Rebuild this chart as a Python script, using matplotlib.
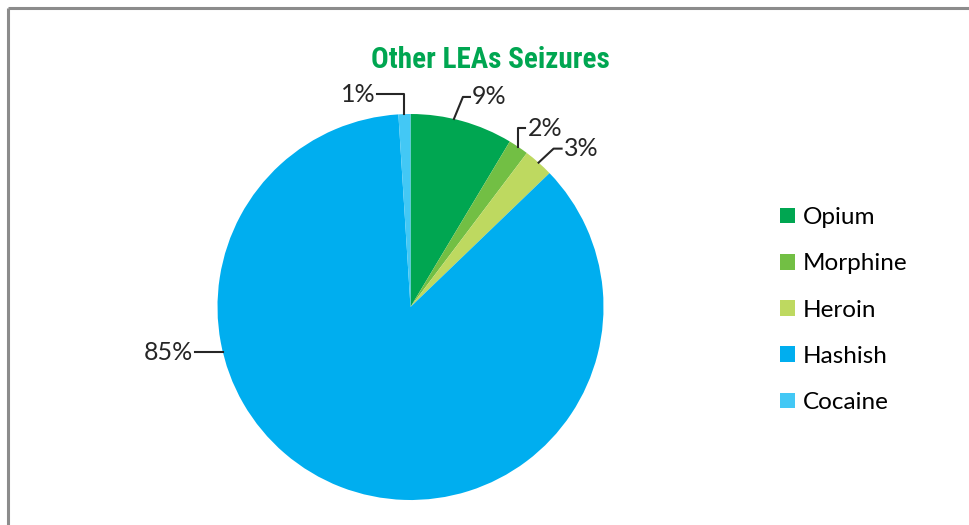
import numpy as np
import matplotlib.pyplot as plt
from matplotlib.patches import Patch

drugs = ['Opium', 'Morphine', 'Heroin', 'Hashish', 'Cocaine']
shares = [8.6, 1.7, 2.5, 86.2, 1.0]
labels = ['9%', '2%', '3%', '85%', '1%']
colors = ['#00a651', '#72bf44', '#bed960', '#00aeef', '#43c8f5']

W, H = 969, 525
fig = plt.figure(figsize=(W / 100, H / 100), dpi=100)
ax = fig.add_axes([0, 0, 1, 1])

cx, cy, r = 410.5, H - 307, 193
wedges, _ = ax.pie(shares, colors=colors, startangle=90, counterclock=False,
                   center=(cx, cy), radius=r, frame=True)
ax.set_xlim(0, W)
ax.set_ylim(0, H)
ax.set_aspect('auto')
ax.axis('off')

# frame of the original panel
ax.plot([8, W], [H - 7.5, H - 7.5], color='#8c8c8c', lw=2.2, solid_capstyle='butt')
ax.plot([8, 8], [0, H - 7.5], color='#8c8c8c', lw=2.2, solid_capstyle='butt')

ax.text(490, H - 60, 'Other LEAs Seizures', ha='center', va='center',
        fontsize=21, fontweight='bold', color='#00a651',
        family=['Liberation Sans Narrow', 'Roboto Condensed', 'DejaVu Sans'],
        fontstretch='condensed')

# leader lines: (anchor angle, elbow dx, elbow dy, horizontal length)
leaders = {
    '9%': (77, 9, 22, 7),
    '2%': (None, 0, 19, 7),
    '3%': (None, 15, 14, 8),
    '85%': (193.5, 0, 0, -28),
    '1%': (None, 0, 20, -27),
}
for w, lab in zip(wedges, labels):
    ang, dx, dy, hl = leaders[lab]
    if ang is None:
        ang = (w.theta1 + w.theta2) / 2
    a = np.deg2rad(ang)
    x0, y0 = cx + r * np.cos(a), cy + r * np.sin(a)
    x1, y1 = x0 + dx, y0 + dy
    x2 = x1 + hl
    ax.plot([x0, x1, x2], [y0, y1, y1], color='#262626', lw=1.5)
    ha = 'left' if hl > 0 else 'right'
    ax.text(x2 + (2 if hl > 0 else -2), y1, lab, ha=ha, va='center',
            fontsize=18, color='#262626', family='Lato')

handles = [Patch(facecolor=c, edgecolor='none') for c in colors]
ax.legend(handles, drugs, loc='upper left', bbox_to_anchor=(780 / W, 1 - 207 / H),
          frameon=False, handlelength=0.62, handleheight=0.62, handletextpad=0.32,
          labelspacing=1.04, prop={'family': 'Lato', 'size': 17.5},
          borderaxespad=0, borderpad=0)

fig.savefig('out.png', dpi=100)
